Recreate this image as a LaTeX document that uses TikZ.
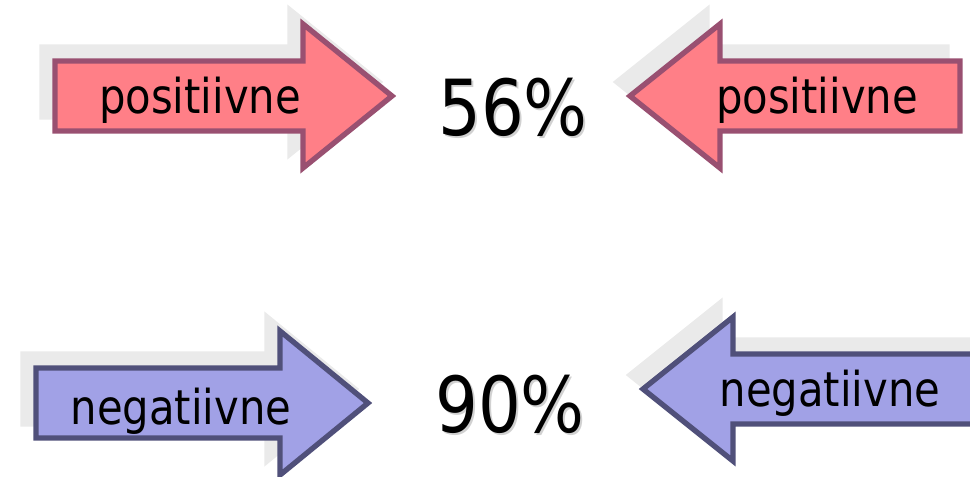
\documentclass[tikz,border=0pt]{standalone}
\usepackage{fontspec}
\setmainfont{DejaVu Sans}[FakeStretch=0.87]
\usepackage{tikz}
\definecolor{posfill}{HTML}{FF7F87}
\definecolor{posline}{HTML}{995071}
\definecolor{negfill}{HTML}{A1A1E6}
\definecolor{negline}{HTML}{50507A}
\definecolor{shade}{HTML}{EAEAEA}

% #1 style, #2 body end x, #3 head base x, #4 tip x, #5 middle y
\newcommand{\bigarrow}[5]{%
  \draw[#1] (#2,#5-35) -- (#3,#5-35) -- (#3,#5-72) -- (#4,#5)
    -- (#3,#5+72) -- (#3,#5+35) -- (#2,#5+35) -- cycle;}

\begin{document}
\begin{tikzpicture}[x=0.75pt,y=-0.75pt,
    posarrow/.style={fill=posfill,draw=posline,line width=4pt},
    negarrow/.style={fill=negfill,draw=negline,line width=4pt},
    shadowed/.style={fill=shade,draw=shade,line width=4pt},
    lbl/.style={anchor=base,inner sep=0pt,font=\fontsize{36pt}{40pt}\selectfont},
    big/.style={anchor=base,inner sep=0pt,font=\fontsize{58pt}{64pt}\selectfont}]
      \useasboundingbox (0,0) rectangle (970,476);
      \clip (0,0) rectangle (970,476);
      % Shadows
      \begin{scope}[shift={(-13,-14)}]
        \bigarrow{shadowed}{55}{303}{392}{96}
        \bigarrow{shadowed}{960}{720}{630}{96}
        \bigarrow{shadowed}{36}{280}{368}{403}
        \bigarrow{shadowed}{1000}{733}{643}{389}
      \end{scope}
      % Arrows
      \bigarrow{posarrow}{55}{303}{392}{96}
      \bigarrow{posarrow}{960}{720}{630}{96}
      \bigarrow{negarrow}{36}{280}{368}{403}
      \bigarrow{negarrow}{1000}{733}{643}{389}
      % Labels
      \node[lbl] (posL) at (200,113) {positiivne};
      \node[lbl] (posR) at (817,113) {positiivne};
      \node[lbl] (negL) at (181,424) {negatiivne};
      \node[lbl] (negR) at (830,406) {negatiivne};
      \node[big,text=black!18] (posPs) at (515,137) {56\%};
      \node[big] (posP) at (513,135) {56\%};
      \node[big,text=black!18] (negPs) at (512,434) {90\%};
      \node[big] (negP) at (510,432) {90\%};
\end{tikzpicture}
\end{document}
